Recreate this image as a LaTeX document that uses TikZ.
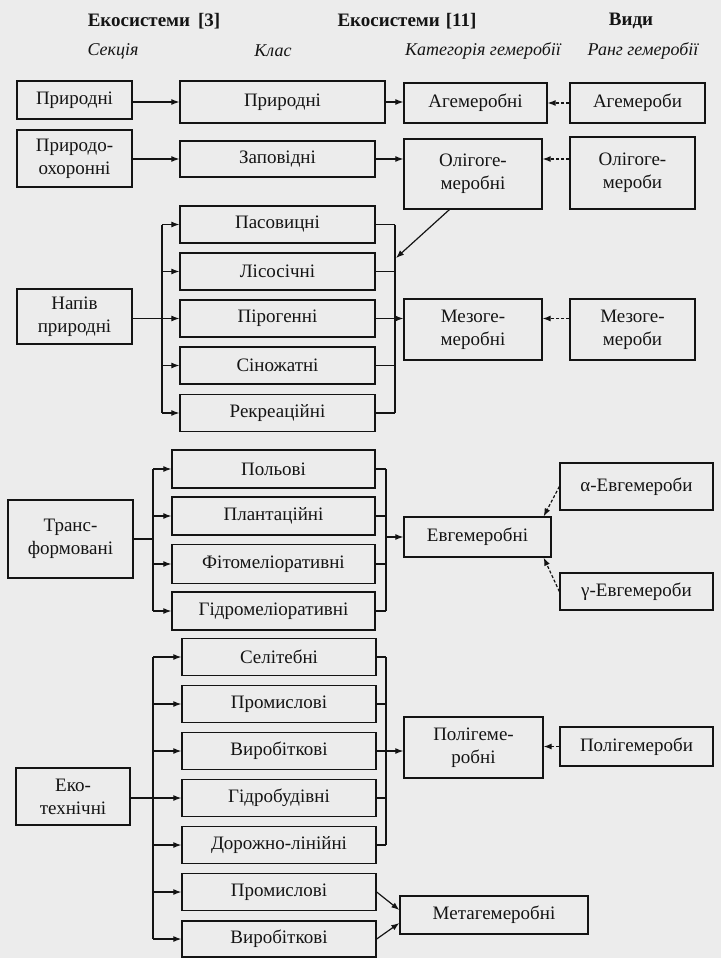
\documentclass[tikz,border=0pt]{standalone}
\usepackage{fontspec}
\setmainfont{Liberation Serif}
\usetikzlibrary{arrows.meta,calc}
\definecolor{bgc}{RGB}{236,236,236}
\definecolor{ink}{RGB}{20,20,20}
\begin{document}
\begin{tikzpicture}[x=1pt,y=-1pt,
  bx/.style={draw=ink, line width=1.3pt, fill=bgc, align=center, inner sep=0pt, text=ink,
             font=\fontsize{19}{23}\selectfont},
  ln/.style={draw=ink, line width=1.2pt},
  ar/.style={ln, -{Latex[length=8pt,width=6pt]}},
  da/.style={ar, dash pattern=on 3pt off 2pt},
  hb/.style={text=ink, font=\bfseries\fontsize{19}{23}\selectfont},
  hi/.style={text=ink, font=\itshape\fontsize{18}{22}\selectfont}]
\fill[bgc] (0,0) rectangle (721,958);
\useasboundingbox (0,0) rectangle (721,958);

% headers
\node[hb] (h1) at (154,21) {Екосистеми\hspace{8pt}[3]};
\node[hb] (h2) at (407,21) {Екосистеми\hspace{6pt}[11]};
\node[hb] (h3) at (631,21) {Види};
\node[hi] (h4) at (113,51) {Секція};
\node[hi] (h5) at (273,51) {Клас};
\node[hi] (h6) at (483,51) {Категорія гемеробії};
\node[hi] (h7) at (643,51) {Ранг гемеробії};

% column 1 (Секція)
\node[bx, minimum width=115pt, minimum height=38pt] (s1) at (74.5,100) {Природні};
\node[bx, minimum width=115pt, minimum height=57pt] (s2) at (74.5,158.5) {Природо-\\охоронні};
\node[bx, minimum width=115pt, minimum height=55pt] (s3) at (74.5,316.5) {Напів\\природні};
\node[bx, minimum width=125pt, minimum height=78pt] (s4) at (70.5,539) {Транс-\\формовані};
\node[bx, minimum width=114pt, minimum height=57pt] (s5) at (73,796.5) {Еко-\\технічні};

% column 2 (Клас)
\node[bx, minimum width=205pt, minimum height=42pt] (c1) at (282.5,102) {Природні};
\node[bx, minimum width=195pt, minimum height=36pt] (c2) at (277.5,159) {Заповідні};
\node[bx, minimum width=195pt, minimum height=37pt] (c3) at (277.5,224.5) {Пасовицні};
\node[bx, minimum width=195pt, minimum height=37pt] (c4) at (277.5,271.5) {Лісосічні};
\node[bx, minimum width=195pt, minimum height=37pt] (c5) at (277.5,318.5) {Пірогенні};
\node[bx, minimum width=195pt, minimum height=37pt] (c6) at (277.5,365.5) {Сіножатні};
\node[bx, minimum width=195pt, minimum height=37pt] (c7) at (277.5,413) {Рекреаційні};
\node[bx, minimum width=203pt, minimum height=38pt] (c8) at (273.5,469) {Польові};
\node[bx, minimum width=203pt, minimum height=38pt] (c9) at (273.5,516) {Плантаційні};
\node[bx, minimum width=203pt, minimum height=39pt] (c10) at (273.5,564) {Фітомеліоративні};
\node[bx, minimum width=203pt, minimum height=38pt] (c11) at (273.5,611) {Гідромеліоративні};
\node[bx, minimum width=194pt, minimum height=37pt] (c12) at (279,657) {Селітебні};
\node[bx, minimum width=194pt, minimum height=37pt] (c13) at (279,704) {Промислові};
\node[bx, minimum width=194pt, minimum height=37pt] (c14) at (279,751) {Виробіткові};
\node[bx, minimum width=194pt, minimum height=37pt] (c15) at (279,798) {Гідробудівні};
\node[bx, minimum width=194pt, minimum height=37pt] (c16) at (279,845) {Дорожно-лінійні};
\node[bx, minimum width=194pt, minimum height=37pt] (c17) at (279,892) {Промислові};
\node[bx, minimum width=194pt, minimum height=36pt] (c18) at (279,939) {Виробіткові};

% column 3 (Категорія гемеробії)
\node[bx, minimum width=143pt, minimum height=40pt] (k1) at (475.5,103) {Агемеробні};
\node[bx, minimum width=138pt, minimum height=70pt] (k2) at (473,174) {Олігоге-\\меробні};
\node[bx, minimum width=138pt, minimum height=61pt] (k3) at (473,329.5) {Мезоге-\\меробні};
\node[bx, minimum width=147pt, minimum height=40pt] (k4) at (477.5,537) {Евгемеробні};
\node[bx, minimum width=139pt, minimum height=61pt] (k5) at (473.5,747.5) {Полігеме-\\робні};
\node[bx, minimum width=188pt, minimum height=38pt] (k6) at (494,915) {Метагемеробні};

% column 4 (Ранг гемеробії)
\node[bx, minimum width=135pt, minimum height=40pt] (r1) at (637.5,103) {Агемероби};
\node[bx, minimum width=125pt, minimum height=72pt] (r2) at (632.5,173) {Олігоге-\\мероби};
\node[bx, minimum width=125pt, minimum height=61pt] (r3) at (632.5,329.5) {Мезоге-\\мероби};
\node[bx, minimum width=153pt, minimum height=47pt] (r4) at (636.5,486.5) {α-Евгемероби};
\node[bx, minimum width=153pt, minimum height=37pt] (r5) at (636.5,591.5) {γ-Евгемероби};
\node[bx, minimum width=153pt, minimum height=39pt] (r6) at (636.5,746.5) {Полігемероби};

% bus positions
\coordinate (L1) at (162,0);
\coordinate (R1) at (395,0);
\coordinate (L2) at (153,0);
\coordinate (R2) at (386,0);
\coordinate (k2b) at ($(k2.south west)+(46,0)$);
\coordinate (R1d) at (396,258);

% row 1 and 2
\draw[ar] (s1.east |- c1.west) -- (c1.west);
\draw[ar] (c1.east) -- (k1.west |- c1.east);
\draw[da] (r1.west) -- (k1.east |- r1.west);
\draw[ar] (s2.east |- c2.west) -- (c2.west);
\draw[ar] (c2.east) -- (k2.west |- c2.east);
\draw[da] (r2.west |- c2.east) -- (k2.east |- c2.east);

% semi-natural group
\draw[ar] (s3.east |- c5.west) -- (c5.west);
\draw[ln] (c3.west -| L1) -- (c7.west -| L1);
\foreach \n in {c3,c4,c6,c7} \draw[ar] (\n.west -| L1) -- (\n.west);
\foreach \n in {c3,c4,c5,c6,c7} \draw[ln] (\n.east) -- (\n.east -| R1);
\draw[ln] (c3.east -| R1) -- (c7.east -| R1);
\draw[ar] (c5.east -| R1) -- (k3.west |- c5.east);
\draw[ar] (k2b) -- (R1d);
\draw[da] (r3.west |- c5.east) -- (k3.east |- c5.east);

% transformed group
\draw[ln] (s4.east) -- (s4.east -| L2);
\draw[ln] (c8.west -| L2) -- (c11.west -| L2);
\foreach \n in {c8,c9,c10,c11} \draw[ar] (\n.west -| L2) -- (\n.west);
\foreach \n in {c8,c9,c10,c11} \draw[ln] (\n.east) -- (\n.east -| R2);
\draw[ln] (c8.east -| R2) -- (c11.east -| R2);
\draw[ar] (R2 |- k4.west) -- (k4.west);
\draw[da] (r4.west) -- ($(k4.north east)+(-8,0)$);
\draw[da] (r5.west) -- ($(k4.south east)+(-8,0)$);

% ecotechnical group
\draw[ln] (c12.west -| L2) -- (c18.west -| L2);
\draw[ar] (s5.east |- c15.west) -- (c15.west);
\foreach \n in {c12,c13,c14,c16,c17,c18} \draw[ar] (\n.west -| L2) -- (\n.west);
\foreach \n in {c12,c13,c14,c15,c16} \draw[ln] (\n.east) -- (\n.east -| R2);
\draw[ln] (c12.east -| R2) -- (c16.east -| R2);
\draw[ar] (R2 |- c14.east) -- (k5.west |- c14.east);
\draw[da] (r6.west) -- (k5.east |- r6.west);
\draw[ar] (c17.east) -- ($(k6.west)+(0,-5)$);
\draw[ar] (c18.east) -- ($(k6.west)+(0,8)$);
\end{tikzpicture}
\end{document}
